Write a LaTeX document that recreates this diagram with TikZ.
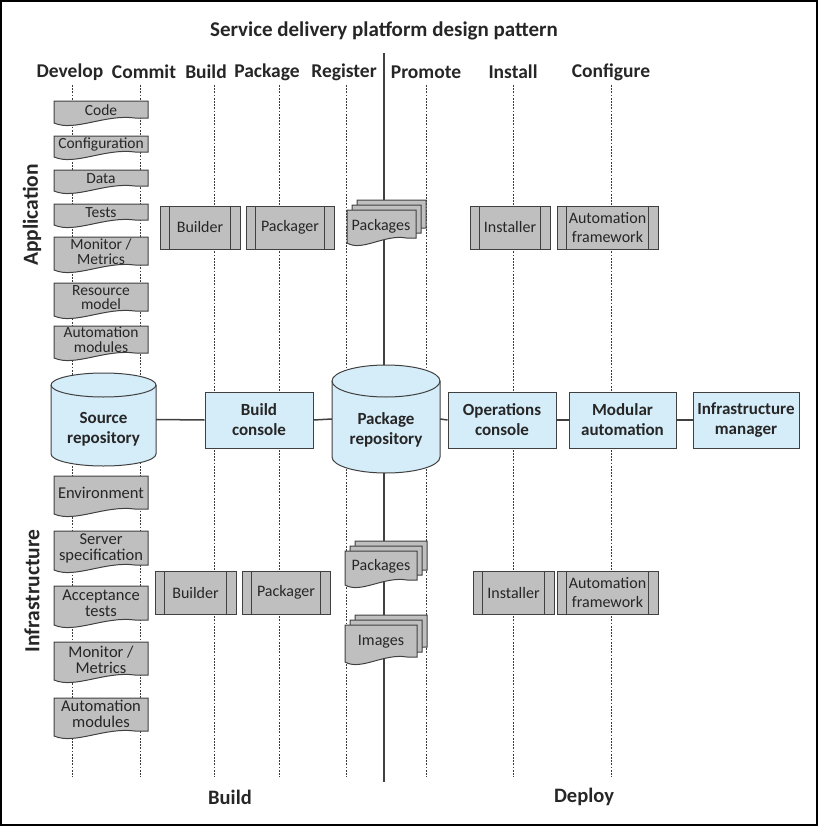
\documentclass[tikz,border=0pt]{standalone}
\usepackage{fontspec}
\setmainfont{Carlito}
\definecolor{docgray}{RGB}{191,191,191}
\definecolor{lblue}{RGB}{213,236,249}
\definecolor{edge}{RGB}{64,64,64}
\definecolor{txt}{RGB}{38,38,38}
\definecolor{gridc}{RGB}{60,60,60}
\tikzset{
  docshape/.style={fill=docgray, draw=edge, line width=1pt},
  doclbl/.style={font=\fontsize{15.5}{14.5}\selectfont, text=txt, align=center, inner sep=0pt},
  doclblb/.style={font=\fontsize{16.5}{16.5}\selectfont, text=txt, align=center, inner sep=0pt},
  procbox/.style={draw=edge, fill=docgray, line width=1pt, inner sep=0pt, text=txt,
     font=\fontsize{16}{19.5}\selectfont, align=center},
  bluebox/.style={draw=edge, fill=lblue, line width=1pt, minimum width=107pt, minimum height=56pt,
     inner sep=0pt, font=\bfseries\fontsize{17}{20}\selectfont, text=txt, align=center},
  head/.style={font=\bfseries\fontsize{19.5}{21}\selectfont, text=txt, inner sep=0pt},
  bighead/.style={font=\bfseries\fontsize{21.5}{23}\selectfont, text=txt, inner sep=0pt},
  gridline/.style={draw=gridc, line width=0.8pt, dash pattern=on 1.8pt off 1.4pt},
  conn/.style={draw=edge, line width=1.5pt},
  axisline/.style={draw=edge, line width=1.8pt},
}
% document shape: x1 y1 x2 y2(right bottom)
\newcommand{\docpath}[4]{%
  \pgfmathsetmacro{\dw}{#3-#1}%
  \path[docshape] (#1,#2) -- (#3,#2) -- (#3,#4) -- ({#3-0.14*\dw},#4)
     .. controls ({#3-0.46*\dw},{#4-4}) and ({#1+0.22*\dw},{#4+14}) .. (#1,{#4+5}) -- cycle;}
% stacked documents: x1 y1 x2 y2 (front)
\newcommand{\stackpath}[4]{%
  \docpath{#1+10}{#2-10}{#3+10}{#4-10}%
  \docpath{#1+5}{#2-5}{#3+5}{#4-5}%
  \docpath{#1}{#2}{#3}{#4}}
% process box: name x1 y1 x2 y2 text
\newcommand{\procnode}[6]{%
  \node[procbox, minimum width={#4-#2}, minimum height={#5-#3}] (#1) at ({(#2+#4)/2},{(#3+#5)/2}) {#6};
  \draw[edge, line width=1pt] ([xshift=10pt]#1.north west) -- ([xshift=10pt]#1.south west);
  \draw[edge, line width=1pt] ([xshift=-10pt]#1.north east) -- ([xshift=-10pt]#1.south east);}
% cylinder: cx ytop ybot rx ry
\newcommand{\cylpath}[5]{%
  \path[fill=lblue, draw=edge, line width=1pt] ({#1-#4},#2) -- ({#1-#4},#3)
     arc[start angle=180, end angle=360, x radius=#4pt, y radius=#5pt] -- ({#1+#4},#2)
     arc[start angle=0, end angle=180, x radius=#4pt, y radius=#5pt] -- cycle;
  \draw[edge, line width=1pt] ({#1-#4},#2) arc[start angle=180, end angle=360, x radius=#4pt, y radius=#5pt];}
\begin{document}
\begin{tikzpicture}[x=1pt,y=-1pt]
\useasboundingbox (0,0) rectangle (819,827);
\draw[black, line width=1.5pt] (1,1) rectangle (817,825);

% title and headers
\node[bighead, font=\bfseries\fontsize{21}{23}\selectfont] (title) at (384,31) {Service delivery platform design pattern};
\node[head] (hdev) at (70,72) {Develop};
\node[head] (hcom) at (144,72) {Commit};
\node[head] (hbld) at (206,72) {Build};
\node[head] (hpkg) at (267,72) {Package};
\node[head] (hreg) at (344,72) {Register};
\node[head] (hpro) at (426,72) {Promote};
\node[head] (hins) at (513,72) {Install};
\node[head] (hcfg) at (611,72) {Configure};
\node[bighead, rotate=90] (lapp) at (32,215) {Application};
\node[bighead, rotate=90] (linf) at (32,591) {Infrastructure};
\node[bighead, font=\bfseries\fontsize{20.5}{22}\selectfont] (lbuild) at (230,797) {Build};
\node[bighead, font=\bfseries\fontsize{20.5}{22}\selectfont] (ldeploy) at (584,797) {Deploy};

% grid lines
\foreach \gx/\gn in {72/a,140/b,214/c,279/d,346/e,426/f,513/g,611/h}{
  \coordinate (gt\gn) at (\gx,85);
  \coordinate (gb\gn) at (\gx,777);
  \draw[gridline] (gt\gn) -- (gb\gn);
}
\coordinate (axtop) at (384,53);
\coordinate (axbot) at (384,782);
\draw[axisline] (axtop) -- (axbot);

% application documents
\docpath{54}{101}{148}{118} \node[doclbl] (dcode) at (101,110.5) {Code};
\docpath{54}{136}{148}{152} \node[doclbl] (dconf) at (101,144.5) {Configuration};
\docpath{54}{170}{148}{186} \node[doclbl] (ddata) at (101,178.5) {Data};
\docpath{54}{204}{148}{220} \node[doclbl] (dtest) at (101,212.5) {Tests};
\docpath{54}{237}{148}{265} \node[doclbl] (dmon) at (101,251.5) {Monitor /\\Metrics};
\docpath{54}{283}{148}{311} \node[doclbl] (dres) at (101,297.5) {Resource\\model};
\docpath{54}{326}{148}{353} \node[doclbl] (dauto) at (101,339.5) {Automation\\modules};

% infrastructure documents
\docpath{54}{476}{148}{509} \node[doclblb] (ienv) at (101,492.5) {Environment};
\docpath{54}{531}{148}{565} \node[doclblb] (isrv) at (101,548.5) {Server\\specification};
\docpath{54}{586}{148}{620} \node[doclblb] (iacc) at (101,603.5) {Acceptance\\tests};
\docpath{54}{642}{148}{675} \node[doclblb] (imon) at (101,660) {Monitor /\\Metrics};
\docpath{54}{698}{148}{731} \node[doclblb] (iauto) at (101,714) {Automation\\modules};

% process boxes
\procnode{abld}{160}{206}{240}{249}{Builder}
\procnode{apkg}{246}{206}{334}{249}{Packager}
\procnode{ains}{470}{206}{550}{249}{Installer}
\procnode{afw}{557}{206}{658}{249}{Automation\\framework}
\procnode{ibld}{155}{571}{236}{614}{Builder}
\procnode{ipkg}{242}{571}{330}{614}{Packager}
\procnode{iins}{473}{571}{554}{614}{Installer}
\procnode{ifw}{557}{571}{658}{614}{Automation\\framework}

% stacks
\stackpath{347}{210}{416}{238} \node[doclblb, font=\fontsize{16}{16}\selectfont] (apkgs) at (381,226) {Packages};
\stackpath{345}{551}{417}{580} \node[doclblb, font=\fontsize{16}{16}\selectfont] (ipkgs) at (381,566) {Packages};
\stackpath{345}{625}{417}{657} \node[doclblb, font=\fontsize{16}{16}\selectfont] (iimg) at (381,642) {Images};

% cylinders
\cylpath{103.5}{385}{454}{52.5}{12}
\node[inner sep=0pt, minimum width=105pt, minimum height=93pt] (src) at (103.5,419.5) {};
\node[font=\bfseries\fontsize{17}{20}\selectfont, text=txt, align=center, inner sep=0pt] (srct) at (103.5,429.5) {Source\\repository};
\cylpath{386}{381}{457}{54}{16}
\node[inner sep=0pt, minimum width=108pt, minimum height=108pt] (pkr) at (386,419) {};
\node[font=\bfseries\fontsize{17}{20}\selectfont, text=txt, align=center, inner sep=0pt] (pkrt) at (386,430) {Package\\repository};

% blue boxes
\node[bluebox, minimum width=108pt] (bcon) at (259,420) {Build\\console};
\node[bluebox, minimum width=108pt] (ocon) at (502,420) {Operations\\console};
\node[bluebox, minimum width=107pt] (mod) at (622.5,420) {Modular\\automation};
\node[bluebox, minimum width=106pt] (inf) at (746,420) {Infrastructure\\manager};

% connectors
\draw[conn] (src.east) -- (bcon.west);
\draw[conn] (bcon.east) -- (pkr.west);
\draw[conn] (pkr.east) -- (ocon.west);
\draw[conn] (ocon.east) -- (mod.west);
\draw[conn] (mod.east) -- (inf.west);
\end{tikzpicture}
\end{document}
